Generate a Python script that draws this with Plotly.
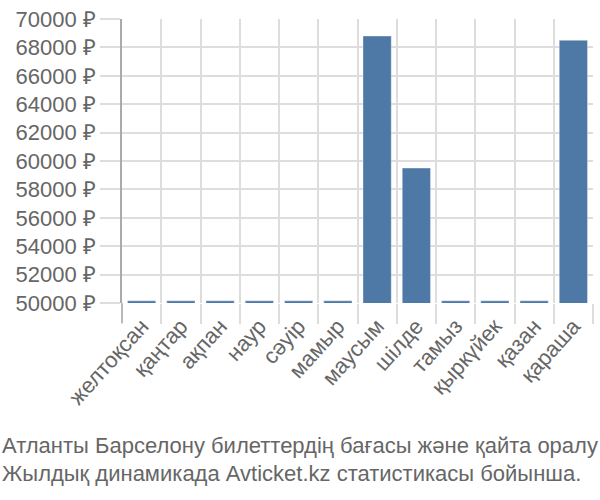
import plotly.graph_objects as go

months = ["желтоқсан", "қаңтар", "ақпан", "наур", "сәуір", "мамыр",
          "маусым", "шілде", "тамыз", "қыркүйек", "қазан", "қараша"]
prices = [50150, 50150, 50150, 50150, 50150, 50150,
          68800, 59500, 50150, 50150, 50150, 68500]
y_ticks = [50000, 52000, 54000, 56000, 58000, 60000, 62000, 64000, 66000, 68000, 70000]
y_labels = [f"{v} ₽" for v in y_ticks]
title_lines = ["Атланты Барселону билеттердің бағасы және қайта оралу",
               "Жылдық динамикада Avticket.kz статистикасы бойынша."]

W, H = 600, 500
ml, mr, mt, mb = 122, 7, 14, 197
pw = W - ml - mr
ph = H - mt - mb

fig = go.Figure(go.Bar(
    x=months, y=prices,
    marker=dict(color="#4e79a7", line=dict(color="rgba(255,255,255,0.35)", width=1)),
))

font = "Liberation Sans, Arial, sans-serif"
fig.update_layout(
    width=W, height=H,
    margin=dict(l=ml, r=mr, t=mt, b=mb),
    paper_bgcolor="white", plot_bgcolor="white",
    bargap=0.28, showlegend=False,
    font=dict(family=font, color="#666666"),
)
fig.update_xaxes(
    type="category", tickson="boundaries",
    showgrid=True, gridcolor="#dddddd", gridwidth=1.5,
    ticks="outside", ticklen=20, tickcolor="#dddddd", tickwidth=1.5,
    tickangle=-48, tickfont=dict(size=22, color="#666666"),
    ticklabelstandoff=5,
    showline=False, zeroline=False,
)
fig.update_yaxes(
    range=[50000, 70000], tickvals=y_ticks, ticktext=y_labels,
    showgrid=True, gridcolor="#dddddd", gridwidth=1.5,
    ticks="outside", ticklen=20, tickcolor="#dddddd", tickwidth=1.5,
    tickfont=dict(size=22, color="#666666"),
    showline=True, linecolor="#aaaaaa", linewidth=1.5,
    zeroline=False,
)

# extension of the y-axis line through the first x tick
fig.add_shape(type="line", xref="paper", yref="paper",
              x0=0, x1=0, y0=0, y1=-20 / ph,
              line=dict(color="#aaaaaa", width=1.5))

for i, line in enumerate(title_lines):
    fig.add_annotation(
        text=line, xref="paper", yref="paper",
        x=-ml / pw, y=-(448 + 29 * i - mt - ph) / ph,
        xanchor="left", yanchor="middle", showarrow=False,
        font=dict(size=22, color="#666666", family=font),
    )

fig.write_html("out.html", config={"displayModeBar": False},
               post_script="document.body.style.margin='0';")
